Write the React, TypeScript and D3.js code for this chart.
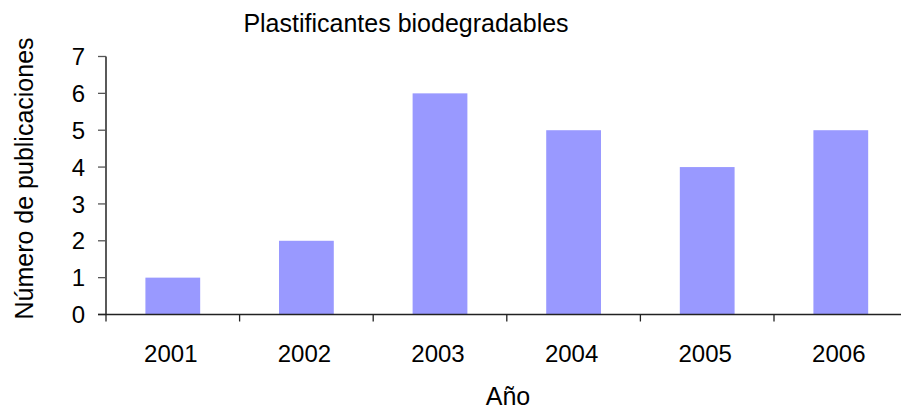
import React from "react";
import * as d3 from "d3";

const years = ["2001", "2002", "2003", "2004", "2005", "2006"];
const publications = [1, 2, 6, 5, 4, 5];
const yTicks = [0, 1, 2, 3, 4, 5, 6, 7];
const title = "Plastificantes biodegradables";
const xLabel = "Año";
const yLabel = "Número de publicaciones";

const W = 901;
const H = 414;
const left = 106;
const right = 907.6;
const top = 56.5;
const bottom = 314.5;
const font = "'Liberation Sans', Arial, sans-serif";

export default function App() {
  const pad = 0.59;
  const x = d3.scaleBand<string>().domain(years).range([left, right]).paddingInner(pad).paddingOuter(pad / 2);
  const y = d3.scaleLinear().domain([0, 7]).range([bottom, top]);
  const step = x.step();
  const boundaries = d3.range(years.length + 1).map((i) => left + i * step);

  return (
    <svg width={W} height={H} style={{ position: "absolute", left: 0, top: 0, background: "#fff" }} fontFamily={font}>
      <rect width={W} height={H} fill="#fff" />
      {years.map((yr, i) => (
        <rect
          key={yr}
          x={x(yr)}
          y={y(publications[i])}
          width={x.bandwidth()}
          height={y(0) - y(publications[i])}
          fill="#9999FF"
        />
      ))}
      {/* y axis */}
      <line x1={left} x2={left} y1={top} y2={bottom} stroke="#000" strokeWidth={1.3} />
      {yTicks.map((t) => (
        <g key={t}>
          <line x1={left - 8} x2={left} y1={y(t)} y2={y(t)} stroke="#555" strokeWidth={1.3} />
          <text x={85} y={y(t)} dy="0.36em" textAnchor="end" fontSize={24} fill="#000">
            {t}
          </text>
        </g>
      ))}
      {/* x axis */}
      <line x1={left - 8} x2={right} y1={bottom} y2={bottom} stroke="#222" strokeWidth={1.5} />
      {boundaries.map((b, i) => (
        <line key={i} x1={b} x2={b} y1={bottom} y2={bottom + 7} stroke="#222" strokeWidth={1.3} />
      ))}
      {years.map((yr) => (
        <text key={yr} x={(x(yr) as number) + x.bandwidth() / 2 - 2} y={361.5} textAnchor="middle" fontSize={24} fill="#000">
          {yr}
        </text>
      ))}
      <text x={406} y={31.5} textAnchor="middle" fontSize={25} fill="#000">
        {title}
      </text>
      <text x={508} y={405} textAnchor="middle" fontSize={25} fill="#000">
        {xLabel}
      </text>
      <text transform={`translate(33,${(37 + 320) / 2}) rotate(-90)`} textAnchor="middle" fontSize={25} fill="#000">
        {yLabel}
      </text>
    </svg>
  );
}
